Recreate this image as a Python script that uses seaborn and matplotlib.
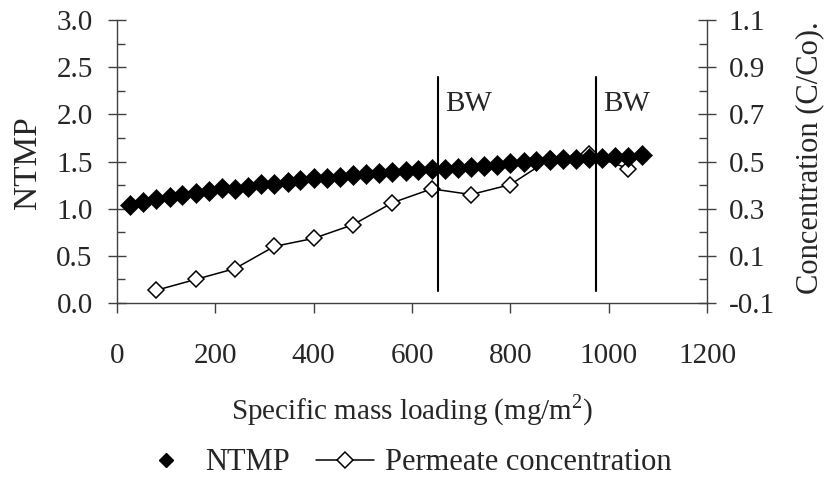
import matplotlib
matplotlib.use("Agg")
import matplotlib.pyplot as plt
import seaborn as sns
import pandas as pd
from matplotlib.lines import Line2D
from matplotlib.ticker import MultipleLocator, FixedLocator, FormatStrFormatter

# ---- data ----
ntmp_x = [27, 53, 80, 107, 133, 160, 187, 213, 240, 267,
          293, 320, 347, 373, 400, 427, 453, 480, 507, 533,
          560, 587, 613, 640, 667, 693, 720, 747, 773, 800,
          827, 853, 880, 907, 933, 960, 987, 1013, 1040, 1067]
ntmp_y = [1.04, 1.07, 1.10, 1.12, 1.15, 1.17, 1.19, 1.22, 1.21, 1.23,
          1.26, 1.26, 1.28, 1.30, 1.32, 1.32, 1.34, 1.36, 1.37, 1.38,
          1.39, 1.40, 1.41, 1.42, 1.42, 1.43, 1.44, 1.45, 1.46, 1.48,
          1.50, 1.51, 1.52, 1.53, 1.53, 1.54, 1.54, 1.55, 1.55, 1.57]
perm_x = [80, 160, 240, 320, 400, 480, 560, 640, 720, 800, 880, 960, 1040]
perm_y = [-0.046, 0.0, 0.046, 0.14, 0.174, 0.232, 0.325, 0.384, 0.36, 0.402, 0.51, 0.53, 0.47]
bw_x = [652, 974]
bw_label = "BW"
x_ticks = [0, 200, 400, 600, 800, 1000, 1200]
left_ticks = [0.0, 0.5, 1.0, 1.5, 2.0, 2.5, 3.0]
right_ticks = [-0.1, 0.1, 0.3, 0.5, 0.7, 0.9, 1.1]

ntmp_df = pd.DataFrame({"x": ntmp_x, "y": ntmp_y})
perm_df = pd.DataFrame({"x": perm_x, "y": perm_y})

sns.set_style("white")
plt.rcParams["font.family"] = ["Liberation Serif", "DejaVu Serif"]
plt.rcParams["axes.unicode_minus"] = False
plt.rcParams["mathtext.fontset"] = "custom"
plt.rcParams["mathtext.rm"] = "Liberation Serif"

fig = plt.figure(figsize=(8.25, 4.78), dpi=100)
fig.patch.set_facecolor("white")
ax = fig.add_axes([117/825, 1-303/478, 590/825, 283/478])
ax2 = ax.twinx()

sns.lineplot(data=perm_df, x="x", y="y", ax=ax2, color="black", linewidth=1.1,
             marker="D", markersize=8.5, markerfacecolor="white",
             markeredgecolor="black", markeredgewidth=1.1)
sns.scatterplot(data=ntmp_df, x="x", y="y", ax=ax, marker="D", s=105,
                color="black", edgecolor="black", linewidth=0.4, zorder=3)

ax.set_zorder(ax2.get_zorder() + 1)
ax.patch.set_visible(False)

for xb in bw_x:
    ax.axvline(xb, ymin=0.042, ymax=0.80, color="black", linewidth=1.5, zorder=5)
    ax.text(xb + 15, 2.04, bw_label, fontsize=21, va="baseline", ha="left")

ax.set_xlim(0, 1200)
ax.set_ylim(0, 3)
ax2.set_ylim(-0.1, 1.1)
ax.xaxis.set_major_locator(FixedLocator(x_ticks))
ax.yaxis.set_major_locator(FixedLocator(left_ticks))
ax.yaxis.set_minor_locator(MultipleLocator(0.25))
ax.yaxis.set_major_formatter(FormatStrFormatter("%.1f"))
ax2.yaxis.set_major_locator(FixedLocator(right_ticks))
ax2.yaxis.set_minor_locator(FixedLocator([0.0, 0.2, 0.4, 0.6, 0.8, 1.0]))
ax2.yaxis.set_major_formatter(FormatStrFormatter("%.1f"))
ax.set_xlabel("")
ax.set_ylabel("")
ax2.set_ylabel("")

spc = "#404040"
for a in (ax, ax2):
    for s in a.spines.values():
        s.set_color(spc)
        s.set_linewidth(1.0)
    a.spines["top"].set_visible(False)
ax.spines["right"].set_visible(False)
ax2.spines["left"].set_visible(False)
ax2.spines["bottom"].set_visible(False)

ax.tick_params(axis="y", which="major", direction="inout", length=13, width=1,
               color=spc, pad=11, labelsize=21, left=True)
ax.tick_params(axis="y", which="minor", direction="in", length=6, width=1, color=spc, left=True)
ax.tick_params(axis="x", which="major", direction="out", length=7.5, width=1,
               color=spc, pad=21, labelsize=21, bottom=True)
ax2.tick_params(axis="y", which="major", direction="inout", length=13, width=1,
                color=spc, pad=9, labelsize=21, right=True)
ax2.tick_params(axis="y", which="minor", direction="in", length=6, width=1, color=spc, right=True)

fig.text(28/825, 1-163/478, "NTMP", rotation=90, ha="center", va="center", fontsize=24)
fig.text(810/825, 1-158/478, "Concentration (C/Co).", rotation=90, ha="center",
         va="center", fontsize=22)
fig.text(412/825, 1-410/478, r"Specific mass loading (mg/m$^{\mathregular{2}}$)",
         ha="center", va="center", fontsize=21)

handles = [Line2D([], [], marker="D", color="black", linestyle="none", markersize=7),
           Line2D([], [], marker="D", color="black", linewidth=1.1, markersize=8,
                  markerfacecolor="white", markeredgewidth=1.1)]
labels = ["NTMP", "Permeate concentration"]
fig.legend(handles, labels, loc="center", bbox_to_anchor=(404/825, 1-463/478),
           ncol=2, frameon=False, fontsize=22, handlelength=1.9,
           handletextpad=0.35, columnspacing=0.85, borderaxespad=0, borderpad=0)

fig.savefig("out.png", dpi=100, facecolor="white")
